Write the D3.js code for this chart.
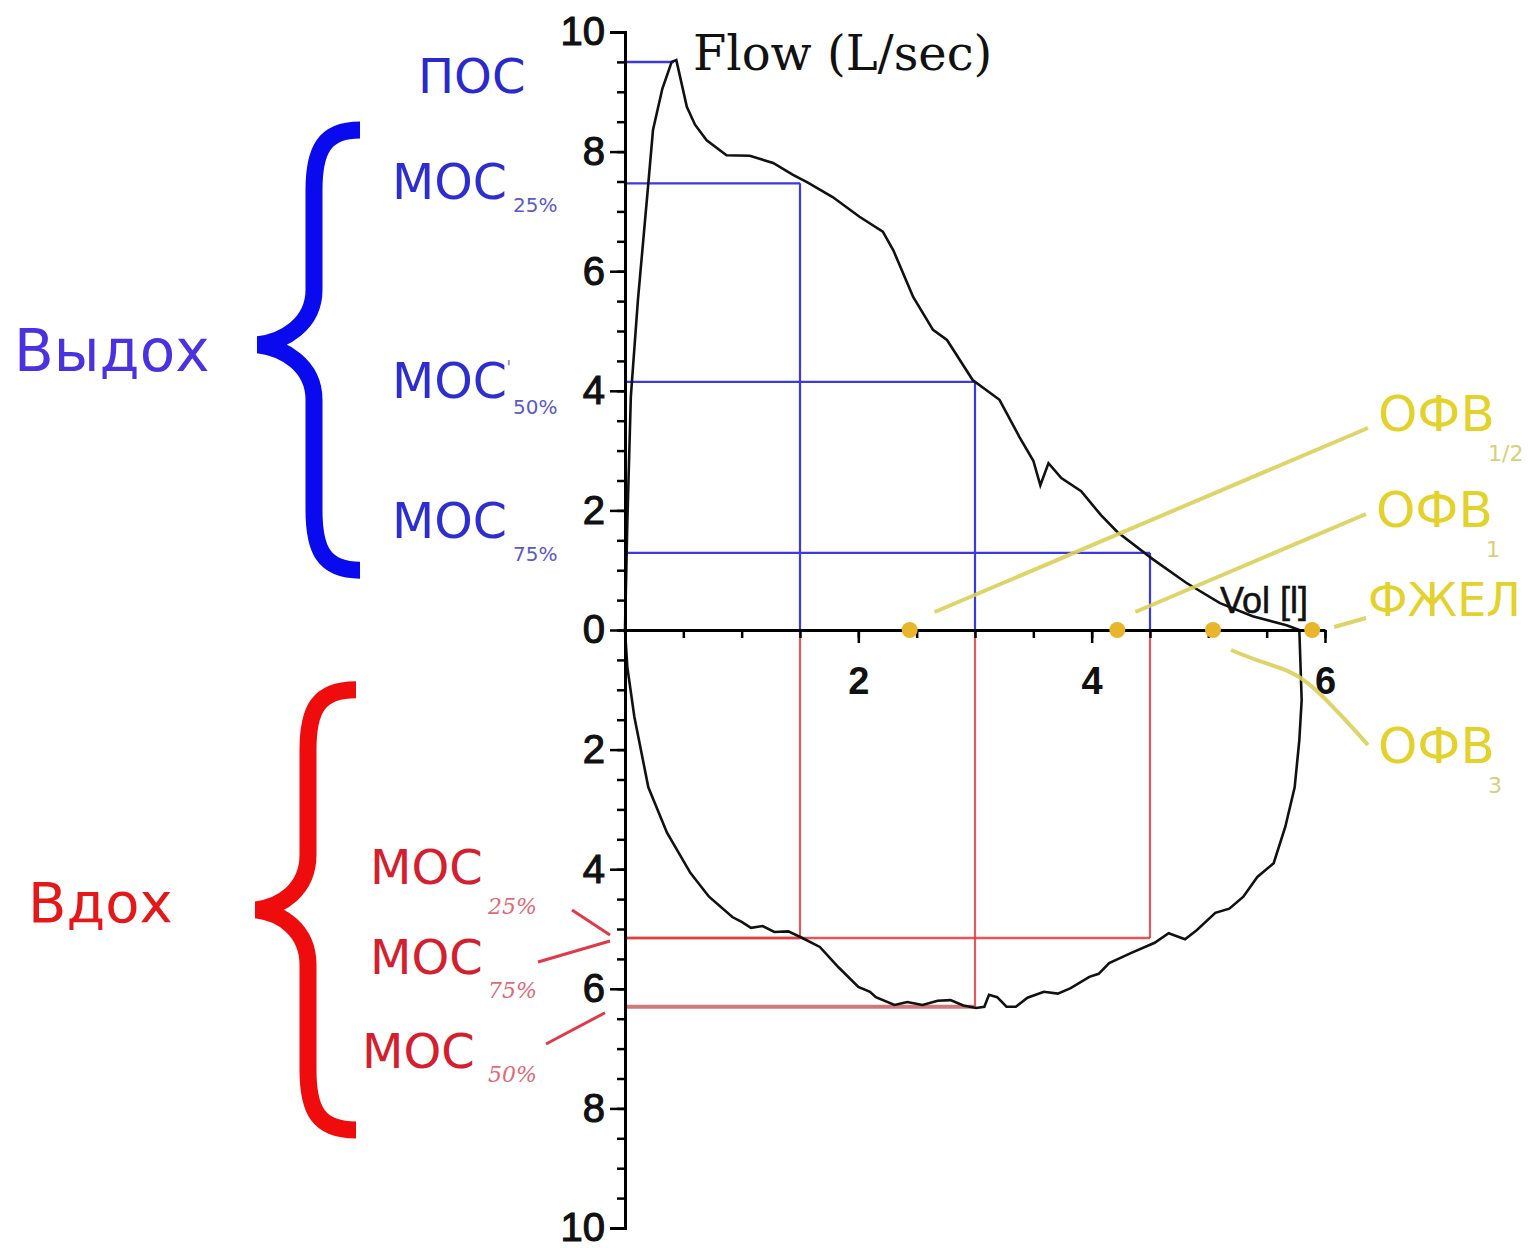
<!DOCTYPE html>
<html>
<head>
<meta charset="utf-8">
<script src="https://cdn.jsdelivr.net/npm/d3@7"></script>
<style>
  body { margin: 0; background: #fff; }
  svg { display: block; }
</style>
</head>
<body>
<div id="chart"></div>
<script>
// expiratory branch of the loop: [volume L, flow L/s]
const expiratory = [
  [0,0],[0.02,1.8],[0.05,3.9],[0.11,5.5],[0.2,7.47],[0.24,8.36],[0.32,9.05],[0.4,9.5],
  [0.44,9.53],[0.53,8.75],[0.6,8.45],[0.7,8.19],[0.87,7.94],[1.07,7.93],[1.27,7.81],
  [1.44,7.61],[1.56,7.49],[1.78,7.24],[2.01,6.91],[2.21,6.66],[2.3,6.35],[2.47,5.57],
  [2.64,5.02],[2.76,4.85],[2.98,4.18],[3.21,3.85],[3.38,3.23],[3.5,2.83],[3.56,2.42],
  [3.63,2.79],[3.74,2.54],[3.91,2.32],[4.08,1.92],[4.22,1.64],[4.52,1.19],[4.81,0.79],
  [5.1,0.45],[5.38,0.23],[5.67,0.08],[5.78,0]
];
// inspiratory branch (flow drawn below the axis)
const inspiratory = [
  [0,0],[0.02,-0.62],[0.08,-1.45],[0.2,-2.63],[0.36,-3.39],[0.56,-4.06],[0.72,-4.46],
  [0.92,-4.8],[1.0,-4.88],[1.08,-4.98],[1.18,-4.95],[1.28,-5.05],[1.4,-5.04],[1.52,-5.15],
  [1.67,-5.3],[1.83,-5.64],[2.0,-5.97],[2.1,-6.05],[2.15,-6.14],[2.31,-6.27],[2.42,-6.22],
  [2.55,-6.27],[2.68,-6.2],[2.79,-6.19],[2.9,-6.28],[3.01,-6.32],[3.08,-6.3],[3.12,-6.1],
  [3.19,-6.14],[3.27,-6.3],[3.35,-6.3],[3.45,-6.15],[3.59,-6.05],[3.71,-6.08],[3.82,-5.99],
  [3.98,-5.8],[4.06,-5.75],[4.15,-5.57],[4.34,-5.4],[4.54,-5.23],[4.66,-5.07],[4.8,-5.17],
  [4.9,-5.02],[5.06,-4.73],[5.18,-4.66],[5.3,-4.46],[5.42,-4.13],[5.56,-3.9],[5.66,-3.29],
  [5.74,-2.63],[5.78,-1.84],[5.8,-1.17],[5.78,0]
];

const posVol = 0.42;
const posFlow = 9.5;
const mocPct = ["25%", "50%", "75%"];
const mocVol = [1.5, 3.0, 4.5];
const mocExpFlow = [7.47, 4.15, 1.29];
const mocInspFlow = [-5.15, -6.3, -5.15];
const inspLabelPct = ["25%", "75%", "50%"];

const fevNames = ["ОФВ", "ОФВ", "ФЖЕЛ", "ОФВ"];
const fevSubs = ["1/2", "1", "", "3"];
const fevVol = [2.44, 4.22, 5.89, 5.04];

const yMajor = d3.range(-10, 10.01, 2);
const yMinor = d3.range(-10, 10.01, 0.5);
const xMajor = [2, 4, 6];
const xMinor = d3.range(0.5, 6.01, 0.5);

const width = 1530, height = 1248;

const svg = d3.select("#chart").append("svg")
  .attr("width", width).attr("height", height)
  .style("background", "#fff");

const x = d3.scaleLinear().domain([0, 6]).range([625, 1325]);
const y = d3.scaleLinear().domain([-10, 10]).range([1228, 32]);

const blue = "#3a3ae0", red = "#e23a3a", yellowLine = "#d9cf5a", yellowText = "#e3d22c";

// measurement guides: blue above the axis, red below
const guides = svg.append("g");
guides.append("line")
  .attr("x1", x(0)).attr("x2", x(posVol))
  .attr("y1", y(posFlow)).attr("y2", y(posFlow))
  .attr("stroke", blue).attr("stroke-width", 2.5);

mocVol.forEach((v, i) => {
  guides.append("line")
    .attr("x1", x(0)).attr("x2", x(v))
    .attr("y1", y(mocExpFlow[i])).attr("y2", y(mocExpFlow[i]))
    .attr("stroke", blue).attr("stroke-width", 2.2);
  guides.append("line")
    .attr("x1", x(v)).attr("x2", x(v))
    .attr("y1", y(mocExpFlow[i])).attr("y2", y(0))
    .attr("stroke", blue).attr("stroke-width", 2.2);
  guides.append("line")
    .attr("x1", x(v)).attr("x2", x(v))
    .attr("y1", y(0)).attr("y2", y(mocInspFlow[i]))
    .attr("stroke", "#e25a5a").attr("stroke-width", 2.2);
  guides.append("line")
    .attr("x1", x(0)).attr("x2", x(v))
    .attr("y1", y(mocInspFlow[i])).attr("y2", y(mocInspFlow[i]))
    .attr("stroke", i == 1 ? "#cf7a78" : red)
    .attr("stroke-width", i == 1 ? 4 : 2.4)
    .attr("stroke-opacity", i == 1 ? 1 : 0.85);
});

// the loop
const line = d3.line().x(d => x(d[0])).y(d => y(d[1]));
svg.append("path").datum(expiratory).attr("d", line)
  .attr("fill", "none").attr("stroke", "#111").attr("stroke-width", 2.6);
svg.append("path").datum(inspiratory).attr("d", line)
  .attr("fill", "none").attr("stroke", "#111").attr("stroke-width", 2.6);

// axes
const numFont = "'Liberation Sans', Arial, sans-serif";
function yAxis(g) {
  g.attr("transform", `translate(${x(0)},0)`)
    .call(d3.axisLeft(y).tickValues(yMajor).tickSize(15).tickFormat(d => Math.abs(d)))
    .call(g => g.select(".domain").attr("stroke-width", 3))
    .call(g => g.selectAll(".tick line").attr("stroke-width", 2.5))
    .call(g => g.selectAll("text").attr("font-size", 40).attr("font-family", numFont)
      .attr("fill", "#111").attr("stroke", "#111").attr("stroke-width", 1.1).attr("dx", -2));
}
function yMinorAxis(g) {
  g.attr("transform", `translate(${x(0)},0)`)
    .call(d3.axisLeft(y).tickValues(yMinor).tickSize(8).tickFormat(""))
    .call(g => g.select(".domain").remove())
    .call(g => g.selectAll(".tick line").attr("stroke-width", 2.5));
}
function xAxis(g) {
  g.attr("transform", `translate(0,${y(0)})`)
    .call(d3.axisBottom(x).tickValues(xMajor).tickSize(13).tickSizeOuter(0).tickFormat(d3.format("d")))
    .call(g => g.select(".domain").attr("stroke-width", 3))
    .call(g => g.selectAll(".tick line").attr("stroke-width", 2.5))
    .call(g => g.selectAll("text").attr("font-size", 38).attr("font-family", numFont)
      .attr("font-weight", "bold").attr("fill", "#111").attr("dy", "1.25em"));
}
function xMinorAxis(g) {
  g.attr("transform", `translate(0,${y(0)})`)
    .call(d3.axisBottom(x).tickValues(xMinor).tickSize(8).tickFormat(""))
    .call(g => g.select(".domain").remove())
    .call(g => g.selectAll(".tick line").attr("stroke-width", 2.5));
}
svg.append("g").call(yMinorAxis);
svg.append("g").call(yAxis);
svg.append("g").call(xMinorAxis);
svg.append("g").call(xAxis);

svg.append("text").attr("x", 693).attr("y", 70)
  .attr("font-family", "'DejaVu Serif', serif").attr("font-size", 48).attr("fill", "#111")
  .text("Flow (L/sec)");
svg.append("text").attr("x", 1220).attr("y", 613)
  .attr("font-family", numFont).attr("font-size", 36).attr("fill", "#111")
  .attr("stroke", "#111").attr("stroke-width", 0.5)
  .text("Vol [l]");

// yellow markers and leaders
const leaders = [
  {from: [x(fevVol[0]) + 25, y(0) - 18], to: [1368, 428], label: [1378, 431]},
  {from: [x(fevVol[1]) + 18, y(0) - 18], to: [1366, 514], label: [1376, 527]},
  {from: [x(fevVol[2]) + 22, y(0) - 3], to: [1366, 618], label: [1368, 616]},
  {from: [x(fevVol[3]) + 18, y(0) + 20], to: [1368, 745], label: [1378, 763]}
];
leaders.forEach((l, i) => {
  let d;
  if (i == 3) {
    d = `M${l.from[0]},${l.from[1]} C${l.from[0] + 70},${l.from[1] + 30} ${l.to[0] - 80},${l.to[1] - 90} ${l.to[0]},${l.to[1]}`;
  } else {
    d = `M${l.from[0]},${l.from[1]} L${l.to[0]},${l.to[1]}`;
  }
  svg.append("path").attr("d", d).attr("fill", "none")
    .attr("stroke", yellowLine).attr("stroke-width", 4).attr("stroke-opacity", 0.9);
  svg.append("text").attr("x", l.label[0]).attr("y", l.label[1])
    .attr("font-family", "'DejaVu Sans', Verdana, sans-serif")
    .attr("font-size", i == 2 ? 46 : 50)
    .attr("fill", yellowText).text(fevNames[i]);
  if (fevSubs[i]) {
    svg.append("text").attr("x", l.label[0] + 110).attr("y", l.label[1] + 30)
      .attr("font-family", "'DejaVu Sans', sans-serif").attr("font-size", 22)
      .attr("fill", "#d8cf7a").text(fevSubs[i]);
  }
});
svg.append("g").selectAll("circle").data(fevVol).join("circle")
  .attr("cx", d => x(d)).attr("cy", y(0)).attr("r", 8)
  .attr("fill", "#e9b52c");

// left annotations
const sans = "'DejaVu Sans', Verdana, sans-serif";
function brace(top, tip, bottom, xr, xm, xt, color) {
  const d = `M${xr},${top} C${xm + 10},${top} ${xm},${top + 20} ${xm},${top + 60}` +
    ` L${xm},${tip - 55} C${xm},${tip - 20} ${xt + 25},${tip - 3} ${xt},${tip}` +
    ` C${xt + 25},${tip + 3} ${xm},${tip + 20} ${xm},${tip + 55}` +
    ` L${xm},${bottom - 60} C${xm},${bottom - 20} ${xm + 10},${bottom} ${xr},${bottom}`;
  svg.append("path").attr("d", d).attr("fill", "none")
    .attr("stroke", color).attr("stroke-width", 17);
}
brace(y(8.36), y(4.77), y(1.0), 360, 314, 258, "#0a0aee");
brace(y(-1.0), y(-4.68), y(-8.36), 356, 308, 256, "#ee0c0c");

svg.append("text").attr("x", 14).attr("y", 371).attr("font-family", sans)
  .attr("font-size", 58).attr("fill", "#4a32e0").text("Выдох");
svg.append("text").attr("x", 28).attr("y", 922).attr("font-family", sans)
  .attr("font-size", 56).attr("fill", "#e41818").text("Вдох");

svg.append("text").attr("x", 418).attr("y", 93).attr("font-family", sans)
  .attr("font-size", 48).attr("fill", "#2a2acc").text("ПОС");

const expLabelY = [199, 398, 538];
const expSubY = [212, 414, 561];
mocPct.forEach((p, i) => {
  svg.append("text").attr("x", 392).attr("y", expLabelY[i]).attr("font-family", sans)
    .attr("font-size", 49).attr("fill", "#2e2ed0").text("МОС");
  svg.append("text").attr("x", 513).attr("y", expSubY[i]).attr("font-family", sans)
    .attr("font-size", 20).attr("fill", "#5a5ac8").text(p);
});
svg.append("text").attr("x", 506).attr("y", 374).attr("font-family", sans)
  .attr("font-size", 20).attr("fill", "#8a8ad0").text("'");

const inspLabelX = [370, 370, 362];
const inspLabelY = [884, 974, 1068];
const inspSubY = [914, 998, 1082];
inspLabelPct.forEach((p, i) => {
  svg.append("text").attr("x", inspLabelX[i]).attr("y", inspLabelY[i]).attr("font-family", sans)
    .attr("font-size", 48).attr("fill", "#d4202e").text("МОС");
  svg.append("text").attr("x", 488).attr("y", inspSubY[i])
    .attr("font-family", "'DejaVu Serif', serif").attr("font-style", "italic")
    .attr("font-size", 22).attr("fill", "#e06a78").text(p);
});
// short pointers from the inspiratory labels to the axis
const pointers = [
  [[572, 910], [x(0) - 15, y(mocInspFlow[0]) - 3]],
  [[538, 962], [x(0) - 15, y(mocInspFlow[0]) + 3]],
  [[546, 1044], [x(0) - 20, y(mocInspFlow[1]) + 6]]
];
pointers.forEach(p => {
  svg.append("line").attr("x1", p[0][0]).attr("y1", p[0][1])
    .attr("x2", p[1][0]).attr("y2", p[1][1])
    .attr("stroke", "#e03a4a").attr("stroke-width", 3);
});
</script>
</body>
</html>
